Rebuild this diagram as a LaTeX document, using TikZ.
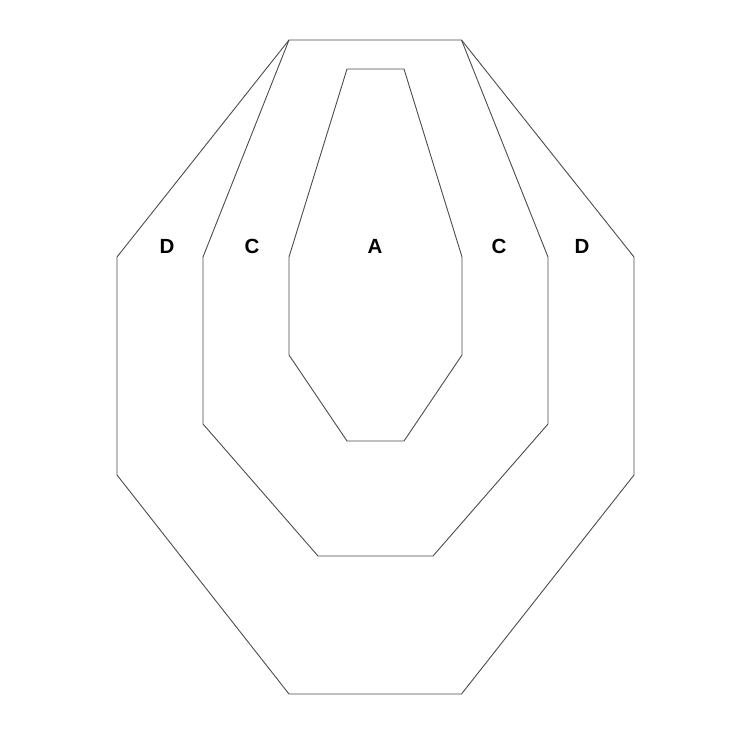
\documentclass[tikz,border=0pt]{standalone}
\usepackage{fontspec}
\setmainfont{Liberation Sans}
\begin{document}
\begin{tikzpicture}[x=1pt,y=-1pt,
  zone/.style={draw=black!70,line width=0.9pt,line join=miter},
  lbl/.style={font=\fontsize{20.5}{20.5}\selectfont\bfseries,inner sep=0pt,anchor=center}]
\useasboundingbox[fill=white] (0,0) rectangle (750,750);
% outer D
\draw[zone] (289,40) -- (461.5,40) -- (634,257) -- (634,475) -- (461.5,694) -- (289,694) -- (117,475) -- (117,257) -- cycle;
% C zone
\draw[zone] (289,40) -- (203,257) -- (203,424) -- (318,556) -- (433,556) -- (548,424) -- (548,257) -- (461.5,40);
% A zone
\draw[zone] (347,69) -- (404,69) -- (462,257) -- (462,355) -- (404,441) -- (347,441) -- (289,355) -- (289,257) -- cycle;
\node[lbl] (d1) at (167,246) {D};
\node[lbl] (c1) at (252,246) {C};
\node[lbl] (a) at (375,246) {A};
\node[lbl] (c2) at (499,246) {C};
\node[lbl] (d2) at (582,246) {D};
\end{tikzpicture}
\end{document}
